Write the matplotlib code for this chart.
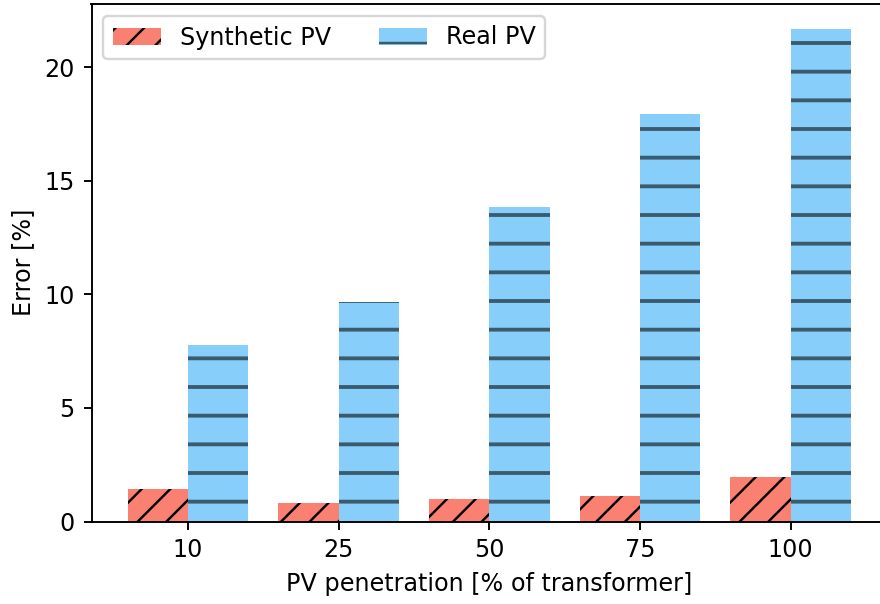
import numpy as np
import matplotlib.pyplot as plt

# Error per PV penetration level
penetration = ['10', '25', '50', '75', '100']
synthetic_err = [1.42, 0.81, 1.00, 1.13, 1.95]
real_err = [7.77, 9.67, 13.85, 17.92, 21.69]

fig = plt.figure(figsize=(880 / 172, 604 / 172), dpi=172)
ax = fig.add_axes([91.5 / 880, 82.5 / 604, 795.5 / 880, 517.5 / 604])

x = np.arange(len(penetration))
width = 0.4

# thinner hatch on the synthetic bars, heavier stripes on the real ones
with plt.rc_context({'hatch.linewidth': 1.0}):
    ax.bar(x - width / 2, synthetic_err, width, color='salmon', edgecolor='black',
           linewidth=0, hatch='//', label='Synthetic PV')
with plt.rc_context({'hatch.linewidth': 1.6}):
    ax.bar(x + width / 2, real_err, width, color='lightskyblue', edgecolor='#3a5a6d',
           linewidth=0, hatch='-', label='Real PV')

ax.set_xticks(x)
ax.set_xticklabels(penetration)
ax.set_yticks([0, 5, 10, 15, 20])
ax.set_xlabel('PV penetration [% of transformer]')
ax.set_ylabel('Error [%]')
ax.legend(loc='upper left', ncol=2)

plt.savefig("out.png", dpi=172)
